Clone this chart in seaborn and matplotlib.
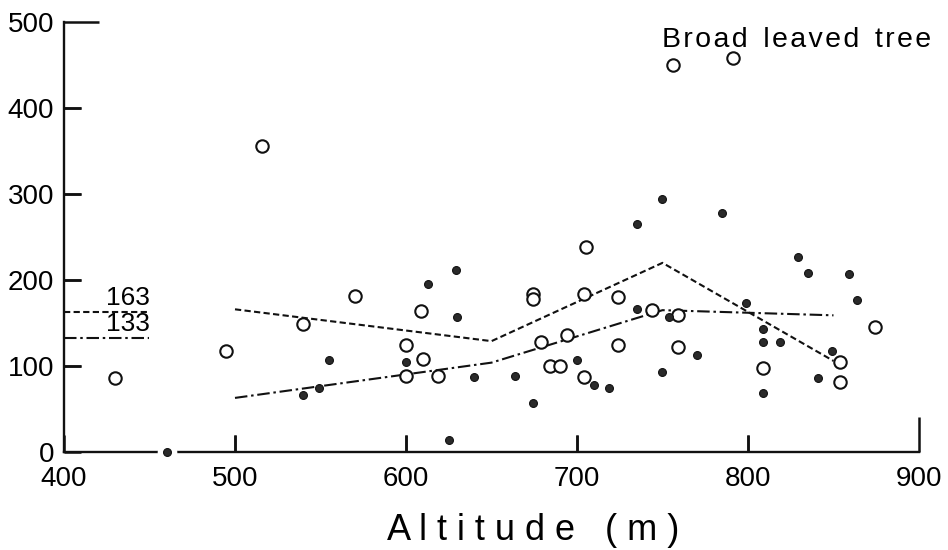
import matplotlib
matplotlib.use("Agg")
import matplotlib.pyplot as plt
import seaborn as sns
import numpy as np
import pandas as pd

# ---- data ----
open_x = [430, 495, 516, 540, 570, 600, 600, 609, 610, 619, 674, 674, 679, 684, 690,
          694, 705, 704, 704, 724, 724, 744, 756, 759, 759, 791, 809, 854, 854, 874]
open_y = [86, 118, 356, 149, 182, 124, 89, 164, 108, 89, 184, 178, 128, 100, 100,
          136, 238, 184, 87, 180, 124, 165, 450, 159, 122, 458, 98, 105, 81, 146]

fill_x = [460, 540, 549, 555, 600, 613, 625, 629, 630, 640, 664, 674, 700, 710, 719,
          735, 735, 750, 750, 754, 770, 785, 799, 809, 809, 819, 809, 829, 835, 841,
          849, 859, 864]
fill_y = [0, 66, 74, 107, 105, 195, 14, 212, 157, 87, 88, 57, 107, 78, 74,
          265, 166, 294, 93, 157, 113, 278, 173, 143, 128, 128, 69, 227, 208, 86,
          117, 207, 177]

dash_x = [500, 650, 750, 850]
dash_y = [166, 129, 220, 106]
dashdot_x = [500, 650, 750, 850]
dashdot_y = [63, 104, 165, 159]

mean_x = [400, 450]
mean_dash = 163
mean_dashdot = 133

x_ticks = [400, 500, 600, 700, 800, 900]
y_ticks = [0, 100, 200, 300, 400, 500]
title_text = "Broad leaved tree"
xlabel_text = "Altitude (m)"

# ---- style ----
sns.set_style("ticks")
plt.rcParams['font.family'] = ['Liberation Sans', 'DejaVu Sans']
plt.rcParams['text.color'] = 'black'

fig = plt.figure(figsize=(9.48, 5.5), dpi=100)
ax = fig.add_axes([0.0675, 0.178, 0.9694 - 0.0675, 0.96 - 0.178])

ink = '#111111'

df_open = pd.DataFrame({'x': open_x, 'y': open_y})
df_fill = pd.DataFrame({'x': fill_x, 'y': fill_y})

# lines
sns.lineplot(x=dash_x, y=dash_y, ax=ax, color=ink, lw=1.5, linestyle=(0, (3, 1.6)), zorder=2)
sns.lineplot(x=dashdot_x, y=dashdot_y, ax=ax, color=ink, lw=1.5,
             linestyle=(0, (6, 1.8, 1.2, 1.8)), zorder=2)
sns.lineplot(x=mean_x, y=[mean_dash, mean_dash], ax=ax, color=ink, lw=1.5,
             linestyle=(0, (3, 1.6)), zorder=2)
sns.lineplot(x=mean_x, y=[mean_dashdot, mean_dashdot], ax=ax, color=ink, lw=1.5,
             linestyle=(0, (6, 1.8, 1.2, 1.8)), zorder=2)
ax.text(mean_x[1], mean_dash + 2, str(mean_dash), ha='right', va='bottom', fontsize=19)
ax.text(mean_x[1], mean_dashdot + 2, str(mean_dashdot), ha='right', va='bottom', fontsize=19)

# white gap under points sitting on the axis
df_zero = df_fill[df_fill['y'] == 0]
sns.scatterplot(data=df_zero, x='x', y='y', ax=ax, s=200, color='white',
                edgecolor='white', linewidth=0, zorder=4, clip_on=False, legend=False)

# points
sns.scatterplot(data=df_open, x='x', y='y', ax=ax, s=80, facecolor='white',
                edgecolor=ink, linewidth=1.5, zorder=5, clip_on=False, legend=False)
sns.scatterplot(data=df_fill, x='x', y='y', ax=ax, s=32, color='#2a2a2a',
                edgecolor=ink, linewidth=0.8, zorder=5, clip_on=False, legend=False)

ax.set_xlim(400, 900)
ax.set_ylim(0, 500)
ax.set_xticks(x_ticks)
ax.set_yticks(y_ticks)
ax.set_xticklabels([str(v) for v in x_ticks])
ax.set_yticklabels([str(v) for v in y_ticks])
ax.set_xlabel('')
ax.set_ylabel('')

for side in ['top', 'right']:
    ax.spines[side].set_visible(False)
for side in ['left', 'bottom']:
    ax.spines[side].set_linewidth(1.7)
    ax.spines[side].set_color(ink)

ax.tick_params(axis='both', which='major', direction='in', length=12, width=1.8,
               color=ink, labelsize=20, labelcolor='black', bottom=True, left=True,
               top=False, right=False)
ax.tick_params(axis='x', which='major', pad=10)
ax.tick_params(axis='y', which='major', pad=7)

# inner tick marks drawn as short segments in axis-fraction units
ax.vlines(x_ticks[1:-1], 0, 0.04, transform=ax.get_xaxis_transform(),
          colors=ink, linewidth=1.8, clip_on=False, zorder=3)
ax.hlines(y_ticks[1:-1], 0, 0.02, transform=ax.get_yaxis_transform(),
          colors=ink, linewidth=1.8, clip_on=False, zorder=3)

# title text (slightly letter-spaced)
spaced_title = "\u200a".join(title_text).replace("\u200a \u200a", "  ")
fig.text(0.698, 0.915, spaced_title, fontsize=20.5, ha='left', va='baseline')

# x label (widely letter-spaced)
word, unit = xlabel_text.split(" ")
spaced_label = " ".join(word) + "   " + " ".join(unit)
fig.text(0.562, 0.018, spaced_label, fontsize=26, ha='center', va='baseline')

fig.canvas.draw()
# the far-end ticks are longer
for axis in (ax.xaxis, ax.yaxis):
    ticks = axis.get_major_ticks()
    ticks[-1].tick1line.set_markersize(25)

fig.savefig("out.png", dpi=100)
